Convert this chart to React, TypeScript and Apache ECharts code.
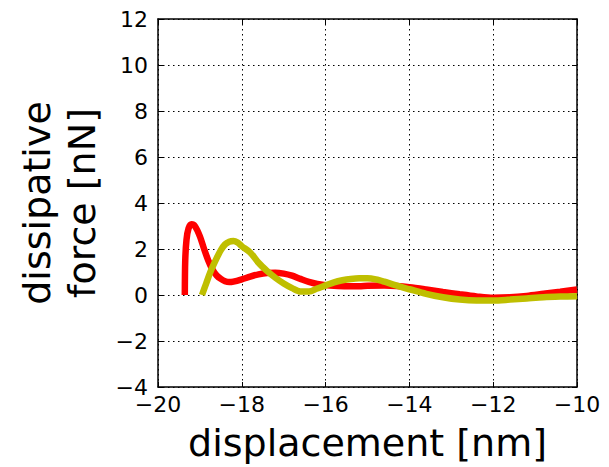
import React, { useEffect, useRef } from "react";
import * as echarts from "echarts";

const xTicks = [-20, -18, -16, -14, -12, -10];
const yTicks = [-4, -2, 0, 2, 4, 6, 8, 10, 12];

const redX = [-19.36, -19.35, -19.32, -19.27, -19.2, -19.12, -19.0, -18.9, -18.8, -18.7, -18.6, -18.5, -18.4, -18.3, -18.2, -18.0, -17.8, -17.6, -17.4, -17.2, -17.0, -16.8, -16.6, -16.4, -16.2, -16.0, -15.8, -15.5, -15.2, -15.0, -14.6, -14.3, -14.0, -13.6, -13.2, -12.8, -12.4, -12.0, -11.6, -11.2, -10.8, -10.4, -10.0];
const redY = [0, 1.5, 2.4, 2.9, 3.08, 3.0, 2.55, 2.0, 1.5, 1.1, 0.85, 0.7, 0.6, 0.56, 0.58, 0.68, 0.8, 0.9, 0.96, 0.97, 0.93, 0.84, 0.7, 0.57, 0.48, 0.43, 0.4, 0.38, 0.38, 0.4, 0.41, 0.39, 0.34, 0.24, 0.13, 0.03, -0.06, -0.12, -0.1, -0.04, 0.05, 0.14, 0.24];

const yelX = [-18.95, -18.85, -18.75, -18.6, -18.5, -18.4, -18.3, -18.2, -18.1, -18.0, -17.8, -17.6, -17.4, -17.2, -17.0, -16.8, -16.6, -16.4, -16.2, -16.0, -15.8, -15.6, -15.4, -15.2, -15.0, -14.8, -14.6, -14.4, -14.2, -14.0, -13.6, -13.2, -12.8, -12.4, -12.0, -11.6, -11.2, -10.8, -10.4, -10.0];
const yelY = [0, 0.5, 1.0, 1.6, 1.95, 2.2, 2.32, 2.35, 2.28, 2.12, 1.85, 1.4, 1.05, 0.75, 0.5, 0.3, 0.15, 0.15, 0.28, 0.42, 0.55, 0.64, 0.7, 0.73, 0.73, 0.68, 0.58, 0.46, 0.35, 0.25, 0.05, -0.1, -0.2, -0.24, -0.24, -0.2, -0.15, -0.1, -0.07, -0.05];

const FONT = "DejaVu Sans";
const fmt = (v: number) => (v < 0 ? "\u2212" + Math.abs(v) : String(v));

export default function App() {
  const ref = useRef<HTMLDivElement>(null);
  useEffect(() => {
    if (!ref.current) return;
    const chart = echarts.init(ref.current, null, { renderer: "svg" });
    const tickStyle = { inside: true, length: 5, lineStyle: { color: "#000", width: 1 } };
    const axisLine = { onZero: false, lineStyle: { color: "#000", width: 1.5 } };
    const grid = { lineStyle: { color: "#000", width: 1, type: [1.5, 3.5] as any } };
    chart.setOption({
      animation: false,
      backgroundColor: "#fff",
      grid: { left: 158, right: 32, top: 19, bottom: 77 },
      xAxis: [
        {
          type: "value", min: xTicks[0], max: xTicks[xTicks.length - 1], interval: 2,
          axisLine, axisTick: tickStyle, splitLine: { show: true, ...grid },
          axisLabel: { formatter: fmt, fontFamily: FONT, fontSize: 22, color: "#000", margin: 6 },
          name: "displacement [nm]", nameLocation: "middle", nameGap: 37,
          nameTextStyle: { fontFamily: FONT, fontSize: 38, color: "#000" },
        },
        {
          type: "value", position: "top", min: xTicks[0], max: xTicks[xTicks.length - 1], interval: 2,
          axisLine, axisTick: tickStyle, splitLine: { show: false }, axisLabel: { show: false },
        },
      ],
      yAxis: [
        {
          type: "value", min: yTicks[0], max: yTicks[yTicks.length - 1], interval: 2,
          axisLine, axisTick: tickStyle, splitLine: { show: true, ...grid },
          axisLabel: { formatter: fmt, fontFamily: FONT, fontSize: 22, color: "#000", margin: 10 },
          name: "dissipative\nforce [nN]", nameLocation: "middle", nameGap: 52,
          nameTextStyle: { fontFamily: FONT, fontSize: 38, color: "#000", lineHeight: 45 },
        },
        {
          type: "value", position: "right", min: yTicks[0], max: yTicks[yTicks.length - 1], interval: 2,
          axisLine, axisTick: tickStyle, splitLine: { show: false }, axisLabel: { show: false },
        },
      ],
      series: [
        {
          type: "line", data: redX.map((x, i) => [x, redY[i]]), showSymbol: false, smooth: 0.3,
          lineStyle: { color: "#ff0000", width: 6.5 }, z: 3,
        },
        {
          type: "line", data: yelX.map((x, i) => [x, yelY[i]]), showSymbol: false, smooth: 0.3,
          lineStyle: { color: "#bfbf00", width: 6.5 }, z: 4,
        },
      ],
    });
    return () => chart.dispose();
  }, []);
  return (
    <div
      ref={ref}
      style={{ position: "fixed", left: 0, top: 0, width: 609, height: 467 }}
    />
  );
}
